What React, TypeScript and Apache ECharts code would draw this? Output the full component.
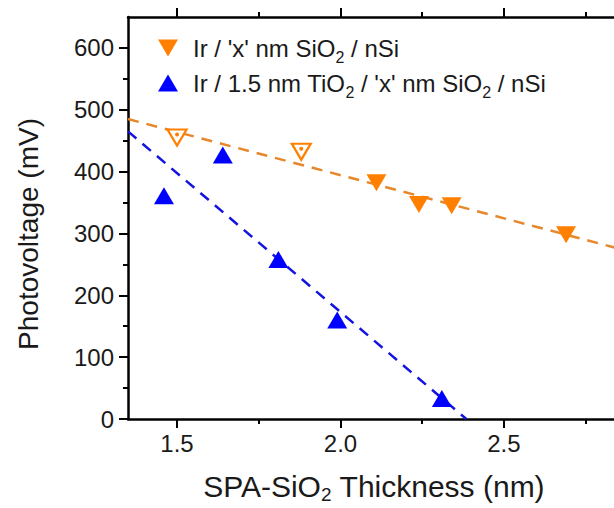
import React, { useEffect, useRef } from "react";
import * as echarts from "echarts";

const orangeNames = "Ir / 'x' nm SiO2 / nSi";
const blueNames = "Ir / 1.5 nm TiO2 / 'x' nm SiO2 / nSi";

const orangeFilledX = [2.11, 2.24, 2.34, 2.69];
const orangeFilledY = [382, 347, 345, 298];
const orangeHollowX = [1.5, 1.88];
const orangeHollowY = [455, 432];
const blueX = [1.46, 1.64, 1.81, 1.99, 2.31];
const blueY = [361, 427, 258, 160, 33];
const orangeFitX = [1.35, 2.855];
const orangeFitY = [485, 275];
const blueFitX = [1.35, 2.385];
const blueFitY = [465, 0];

const xMajor = [1.5, 2.0, 2.5];
const xMinor = [1.75, 2.25, 2.75];
const yMajor = [0, 100, 200, 300, 400, 500, 600];
const yMinor = [50, 150, 250, 350, 450, 550];

const FONT = "'Liberation Sans', Arial, sans-serif";
const TXT = "#1a1a1a";
const ORANGE = "#FF8000";
const ORANGE_LINE = "#E8872A";
const BLUE = "#0000FF";
const BLUE_LINE = "#1414E0";
const DOWN_TRI = "path://M0,0L20,0L10,17Z";

const zip = (xs: number[], ys: number[]) => xs.map((x, i) => [x, ys[i]]);

const legendRich = {
  g: { width: 10 },
  t: { fontSize: 24, fontFamily: FONT, color: TXT },
  s: { fontSize: 16, fontFamily: FONT, color: TXT, padding: [18, 0, 0, 0] },
};

function App() {
  const ref = useRef<HTMLDivElement>(null);
  useEffect(() => {
    if (!ref.current) return;
    const chart = echarts.init(ref.current, null, { renderer: "svg" });
    const axisLine = { show: true, lineStyle: { color: "#000", width: 2.5 } };
    const tickStyle = { width: 2, color: "#000" };
    const xBase = { type: "value", min: 1.35, max: 2.855, splitLine: { show: false } };
    const yBase = { type: "value", min: 0, max: 650, splitLine: { show: false } };
    chart.setOption({
      animation: false,
      backgroundColor: "#fff",
      grid: { left: 128, top: 17, right: 20, bottom: 89, containLabel: false, outerBoundsMode: "none" },
      legend: {
        data: [orangeNames, blueNames],
        orient: "vertical",
        left: 153,
        top: 31,
        itemWidth: 20,
        itemHeight: 17,
        itemGap: 6,
        textStyle: { fontSize: 24, fontFamily: FONT, color: TXT, rich: legendRich },
        formatter: (name: string) =>
          "{g|}{t|" + name.replace(/O2/g, "O}{s|2}{t|") + "}",
      },
      xAxis: [
        {
          ...xBase,
          position: "bottom",
          axisLine,
          axisTick: { show: true, customValues: xMajor, length: 9, lineStyle: tickStyle },
          axisLabel: {
            customValues: xMajor,
            formatter: (v: number) => v.toFixed(1),
            fontSize: 24,
            fontFamily: FONT,
            color: TXT,
            margin: 12,
          },
          name: "{t|SPA-SiO}{s|2}{t| Thickness (nm)}",
          nameLocation: "middle",
          nameGap: 50,
          nameTextStyle: {
            rich: {
              t: { fontSize: 30, fontFamily: FONT, color: TXT },
              s: { fontSize: 19, fontFamily: FONT, color: TXT, padding: [16, 0, 0, 0] },
            },
          },
        },
        {
          ...xBase,
          position: "bottom",
          axisLine: { show: false },
          axisTick: { show: true, customValues: xMinor, length: 5, lineStyle: tickStyle },
          axisLabel: { show: false },
        },
        {
          ...xBase,
          position: "top",
          axisLine,
          axisTick: { show: true, customValues: xMajor, length: 9, lineStyle: tickStyle },
          axisLabel: { show: false },
        },
        {
          ...xBase,
          position: "top",
          axisLine: { show: false },
          axisTick: { show: true, customValues: xMinor, length: 5, lineStyle: tickStyle },
          axisLabel: { show: false },
        },
      ],
      yAxis: [
        {
          ...yBase,
          position: "left",
          axisLine,
          axisTick: { show: true, customValues: yMajor, length: 9, lineStyle: tickStyle },
          axisLabel: {
            customValues: yMajor,
            fontSize: 24,
            fontFamily: FONT,
            color: TXT,
            margin: 14,
          },
          name: "Photovoltage (mV)",
          nameLocation: "middle",
          nameRotate: 90,
          nameGap: 86,
          nameTextStyle: { fontSize: 28, fontFamily: FONT, color: TXT, padding: [0, 32, 0, 0] },
        },
        {
          ...yBase,
          position: "left",
          axisLine: { show: false },
          axisTick: { show: true, customValues: yMinor, length: 5, lineStyle: tickStyle },
          axisLabel: { show: false },
        },
      ],
      series: [
        {
          name: "orange fit",
          type: "line",
          data: zip(orangeFitX, orangeFitY),
          symbol: "none",
          lineStyle: { color: ORANGE_LINE, width: 2.5, type: [11, 8] },
          z: 1,
        },
        {
          name: "blue fit",
          type: "line",
          data: zip(blueFitX, blueFitY),
          symbol: "none",
          lineStyle: { color: BLUE_LINE, width: 2.5, type: [11, 8] },
          z: 1,
        },
        {
          name: orangeNames,
          type: "scatter",
          data: zip(orangeFilledX, orangeFilledY),
          symbol: DOWN_TRI,
          symbolSize: [20, 17],
          itemStyle: { color: ORANGE, opacity: 1 },
          z: 3,
        },
        {
          name: "orange hollow",
          type: "scatter",
          data: zip(orangeHollowX, orangeHollowY),
          symbol: DOWN_TRI,
          symbolSize: [19, 16],
          itemStyle: { color: "#fff", borderColor: ORANGE, borderWidth: 2.2, opacity: 1 },
          z: 3,
        },
        {
          name: "orange hollow dot",
          type: "scatter",
          data: zip(orangeHollowX, orangeHollowY),
          symbol: "circle",
          symbolSize: 4,
          symbolOffset: [0, -3],
          itemStyle: { color: ORANGE, opacity: 1 },
          z: 4,
        },
        {
          name: blueNames,
          type: "scatter",
          data: zip(blueX, blueY),
          symbol: "triangle",
          symbolSize: [20, 17],
          itemStyle: { color: BLUE, opacity: 1 },
          z: 3,
        },
      ],
    });
    return () => chart.dispose();
  }, []);
  return (
    <div style={{ position: "fixed", left: 0, top: 0, width: 614, height: 508, overflow: "hidden", background: "#fff" }}>
      <div ref={ref} style={{ width: 640, height: 508 }} />
    </div>
  );
}

export default App;
